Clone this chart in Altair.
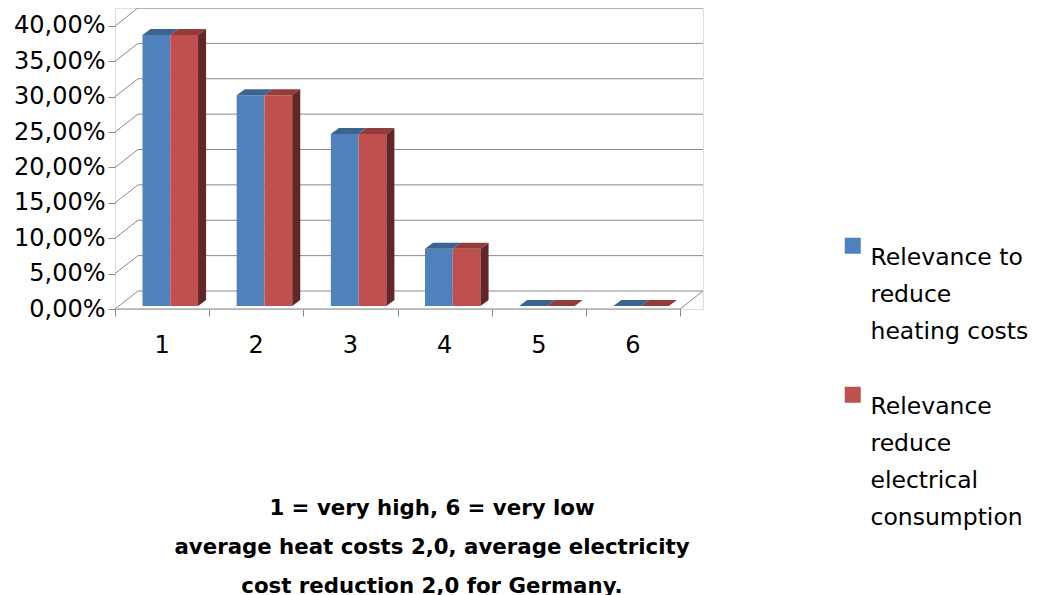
import json
import altair as alt
import pandas as pd

# ---------------- data ----------------
categories = ["1", "2", "3", "4", "5", "6"]
heating = [38.3, 29.8, 24.3, 8.1, 0.0, 0.0]
electrical = [38.3, 29.8, 24.3, 8.1, 0.0, 0.0]
series = ["Relevance to reduce heating costs", "Relevance reduce electrical consumption"]
legend_lines = [["Relevance to", "reduce", "heating costs"],
                ["Relevance", "reduce", "electrical", "consumption"]]
y_ticks = [0, 5, 10, 15, 20, 25, 30, 35, 40]
note_lines = ["1 = very high, 6 = very low",
              "average heat costs 2,0, average electricity",
              "cost reduction 2,0 for Germany."]

# ---------------- style / geometry ----------------
FONT = "DejaVu Sans"
BLUE, RED = "#4F81BD", "#C0504D"
BLUE_TOP, RED_TOP, RED_SIDE = "#3B6493", "#943C3A", "#622626"
GRID = "#8A8A8A"
W, H = 588, 301
N = len(categories)
DXU = 0.244            # wall depth, category units
DYU = 2.544            # wall depth, percent units
BAR_BASE = 0.42
BAR_LEFT = 0.292
BAR_W = 0.295
BDX, BDY = 0.085, 0.85  # bar depth

x_scale = alt.Scale(domain=[0, N + DXU], nice=False, zero=False)
y_scale = alt.Scale(domain=[0, 40 + DYU], nice=False, zero=False)
x_axis = alt.Axis(values=list(range(N + 1)), labels=False, tickSize=7, tickColor=GRID,
                  domain=False, grid=False, title=None)
y_axis = alt.Axis(values=y_ticks, tickSize=7, tickColor=GRID, domain=False, grid=False,
                  title=None, labelFont=FONT, labelFontSize=24, labelColor="black",
                  labelPadding=3,
                  labelExpr="replace(format(datum.value, '.2f'), '.', ',') + '%'")


def X(f):
    return alt.X(f, type="quantitative", scale=x_scale, axis=x_axis)


def Y(f):
    return alt.Y(f, type="quantitative", scale=y_scale, axis=y_axis)


# ---------------- tables ----------------
grid_df = pd.DataFrame({"v": y_ticks})
grid_df["vb"] = grid_df["v"] + DYU
grid_df["x0"] = 0.0
grid_df["xb0"] = DXU
grid_df["xb1"] = N + DXU

floor_df = pd.DataFrame({"x0": [0.0, float(N)], "x1": [float(N), N + DXU],
                         "y0": [0.0, 0.0], "y1": [0.0, DYU]})

front_rows, top_rows, side_rows = [], [], []
for i, cat in enumerate(categories):
    for s, vals in enumerate([heating, electrical]):
        v = vals[i]
        x0 = i + BAR_LEFT + BAR_W * s
        x1 = x0 + BAR_W
        yb, yt = BAR_BASE, BAR_BASE + v
        bid = f"{cat}-{s}"
        front_rows.append({"cat": cat, "series": series[s], "x0": x0, "x1": x1, "yb": yb, "yt": yt})
        top_rows.append({"bid": bid, "s": s, "y": yt, "xa": x0, "xb": x1})
        top_rows.append({"bid": bid, "s": s, "y": yt + BDY, "xa": x0 + BDX, "xb": x1 + BDX})
        if s == 1:
            side_rows.append({"bid": bid, "x": x1, "lo": yb, "hi": yt})
            side_rows.append({"bid": bid, "x": x1 + BDX, "lo": yb + BDY, "hi": yt + BDY})
front_df = pd.DataFrame(front_rows)
top_df = pd.DataFrame(top_rows)
side_df = pd.DataFrame(side_rows)
cat_df = pd.DataFrame({"cat": categories, "xc": [i + 0.5 for i in range(N)], "y0": 0.0})

# ---------------- layers ----------------
back_grid = alt.Chart(grid_df).mark_rule(color=GRID, strokeWidth=1).encode(
    x=X("xb0"), x2="xb1", y=Y("vb"))
left_wall = alt.Chart(grid_df).mark_rule(color=GRID, strokeWidth=1).encode(
    x=X("x0"), x2="xb0", y=Y("v"), y2="vb")
floor = alt.Chart(floor_df).mark_rule(color=GRID, strokeWidth=1).encode(
    x=X("x0"), x2="x1", y=Y("y0"), y2="y1")

label_expr = " : ".join(
    [f"datum.label == {json.dumps(series[k])} ? {json.dumps(legend_lines[k])}" for k in range(len(series) - 1)]
    + [json.dumps(legend_lines[-1])])

fronts = alt.Chart(front_df).mark_rect().encode(
    x=X("x0"), x2="x1", y=Y("yb"), y2="yt",
    color=alt.Color("series:N", scale=alt.Scale(domain=series, range=[BLUE, RED]),
                    legend=alt.Legend(orient="none", legendX=726, legendY=226, title=None,
                                      symbolType="square", symbolSize=256, symbolStrokeWidth=0,
                                      labelFont=FONT, labelFontSize=23.5, labelColor="black",
                                      labelOffset=6, labelLimit=400, labelBaseline="top",
                                      rowPadding=39, labelExpr=label_expr)))

tops_blue = alt.Chart(top_df).transform_filter("datum.s == 0").mark_area(
    orient="horizontal", color=BLUE_TOP).encode(
    y=Y("y"), x=X("xa"), x2="xb", detail="bid:N")
tops_red = alt.Chart(top_df).transform_filter("datum.s == 1").mark_area(
    orient="horizontal", color=RED_TOP).encode(
    y=Y("y"), x=X("xa"), x2="xb", detail="bid:N")
sides = alt.Chart(side_df).mark_area(orient="vertical", color=RED_SIDE).encode(
    x=X("x"), y=Y("lo"), y2="hi", detail="bid:N")

cat_labels = alt.Chart(cat_df).mark_text(font=FONT, fontSize=24, dy=37, color="black").encode(
    x=X("xc"), y=Y("y0"), text="cat:N")

chart = alt.layer(back_grid, left_wall, floor, fronts, tops_blue, tops_red, sides, cat_labels).properties(
    width=W, height=H,
    autosize=alt.AutoSizeParams(type="none"),
    padding={"left": 107, "top": 0, "right": 326, "bottom": 290},
    title=alt.TitleParams(text=note_lines, orient="bottom", font=FONT, fontSize=21.3,
                          fontWeight="bold", lineHeight=39, color="black", anchor="middle",
                          dx=23, offset=-32),
).configure_view(stroke=None).configure(
    background="white", style={"guide-label": {"lineHeight": 37}})

chart.save("out.html", embed_options={"renderer": "svg", "actions": False})
